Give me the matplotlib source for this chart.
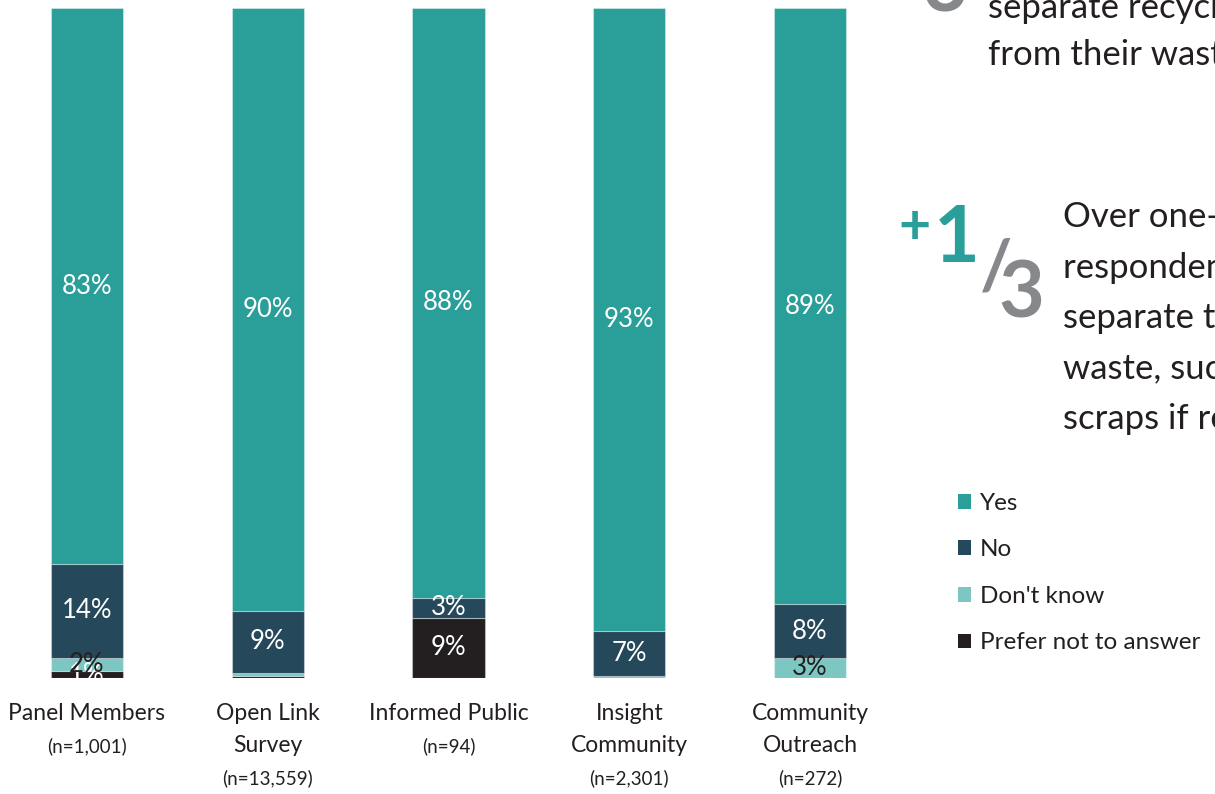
import matplotlib
matplotlib.use("Agg")
import matplotlib.pyplot as plt
from matplotlib.patches import Patch
import numpy as np

plt.rcParams['font.family'] = ['Lato', 'DejaVu Sans']

categories = ["Panel Members", "Open Link\nSurvey", "Informed Public", "Insight\nCommunity", "Community\nOutreach"]
sample_sizes = ["(n=1,001)", "(n=13,559)", "(n=94)", "(n=2,301)", "(n=272)"]

series = ["Yes", "No", "Don't know", "Prefer not to answer"]
yes = [83, 90, 88, 93, 89]
no = [14, 9.2, 3, 6.7, 8]
dont_know = [2, 0.5, 0, 0.3, 3]
prefer_not = [1, 0.3, 9, 0, 0]

colors = {"Yes": "#2a9e99", "No": "#25485a", "Don't know": "#7dc7c3",
          "Prefer not to answer": "#231f20"}
label_colors = {"Yes": "white", "No": "white", "Don't know": "#231f20",
                "Prefer not to answer": "white"}

W, H = 1215, 794
fig = plt.figure(figsize=(W / 100, H / 100), dpi=100)


def fx(px):
    return px / W


def fy(py):
    return 1 - py / H


# axes: bottom of bars at 678px, top at 8px; x 0..4 -> 87..810 px
ax = fig.add_axes([0, fy(678), fx(900), (678 - 8) / H])
ax.set_ylim(0, 100)
ax.set_xlim(-87 / 180.75, (900 - 87) / 180.75)
ax.axis("off")

x = np.arange(len(categories))
stack = [("Prefer not to answer", prefer_not), ("Don't know", dont_know),
         ("No", no), ("Yes", yes)]
bottom = np.zeros(len(categories))
handles = {}
for name, vals in stack:
    vals = np.array(vals, dtype=float)
    ax.bar(x, vals, bottom=bottom, width=0.4, color=colors[name],
           edgecolor=(1, 1, 1, 0.35), linewidth=0.8)
    handles[name] = Patch(facecolor=colors[name], label=name)
    for xi, v, b in zip(x, vals, bottom):
        if v >= 1:
            ax.text(xi, b + v / 2, f"{round(v)}%", ha="center", va="center",
                    fontsize=18.5, color=label_colors[name])
    bottom += vals

# category labels below bars
px_per_unit = (678 - 8) / 100
for xi, name, n in zip(x, categories, sample_sizes):
    lines = name.split("\n")
    for i, line in enumerate(lines):
        ypx = 714 + 31.5 * i
        ax.text(xi, -(ypx - 678) / px_per_unit, line, ha="center", va="center",
                fontsize=16.5, color="#231f20", clip_on=False)
    ypx = 714 + 32 * len(lines)
    ax.text(xi, -(ypx - 678) / px_per_unit, n, ha="center", va="center",
            fontsize=13.5, color="#231f20", clip_on=False)

# legend
fig.legend(handles=[handles[s] for s in series], loc="upper left",
           bbox_to_anchor=(fx(936), fy(471)), frameon=False, fontsize=17.5,
           handlelength=0.55, handleheight=0.55, handletextpad=0.35,
           labelspacing=1.05, labelcolor="#231f20")

# side annotations (cut off at the right edge)
gray = "#87888c"
teal = "#2a9e99"
fig.text(fx(945), fy(12), "3", fontsize=56, color=gray, ha="center",
         va="baseline", fontweight="bold")
for i, line in enumerate(["separate recycling", "from their waste"]):
    fig.text(fx(988), fy(18 + 47 * i), line, fontsize=25, color="#231f20",
             va="baseline")

fig.text(fx(914), fy(244), "+", fontsize=40, color=teal, ha="center",
         va="baseline", fontweight="bold")
fig.text(fx(957), fy(262), "1", fontsize=57, color=teal, ha="center",
         va="baseline", fontweight="bold")
fig.text(fx(996), fy(288), "/", fontsize=50, color=gray, ha="center",
         va="baseline", fontweight="bold")
fig.text(fx(1021), fy(318), "3", fontsize=57, color=gray, ha="center",
         va="baseline", fontweight="bold")
side_lines = ["Over one-third of", "respondents would", "separate their food",
              "waste, such as food", "scraps if required"]
for i, line in enumerate(side_lines):
    fig.text(fx(1063), fy(227 + 50.5 * i), line, fontsize=25, color="#231f20",
             va="baseline")

fig.savefig("out.png", dpi=100)
